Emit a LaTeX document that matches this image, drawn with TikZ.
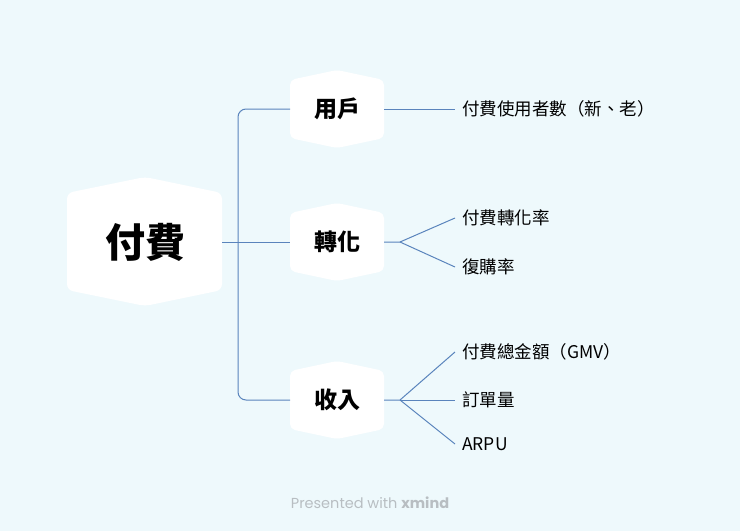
\documentclass[tikz,border=0pt]{standalone}
\usepackage{fontspec}
\setmainfont{Noto Sans CJK TC}
\newfontfamily\footfont{Poppins}
\definecolor{bg}{HTML}{EEF9FC}
\definecolor{ln}{HTML}{5A84BC}
\definecolor{ft}{HTML}{B8BEC2}
\begin{document}
\begin{tikzpicture}[x=1pt,y=-1pt,
  conn/.style={ln,line width=1pt},
  leaf/.style={anchor=west,font=\fontsize{17.5}{20}\selectfont,inner sep=0pt}]
\fill[bg] (0,0) rectangle (740,531);
\useasboundingbox (0,0) rectangle (740,531);
% root hexagon
\fill[white,rounded corners=6pt] (67,193) -- (145,177) -- (222,193) -- (222,290) -- (145,306) -- (67,290) -- cycle;
\node (root) at (145,242) {\fontsize{40}{46}\selectfont\bfseries 付費};
\coordinate (rr) at (222,242);
\foreach \n/\y/\t in {a/109/用戶,b/242/轉化,c/400/收入}{
  \fill[white,rounded corners=5pt] (290,\y-29) -- (337,\y-39) -- (384,\y-29) -- (384,\y+29) -- (337,\y+39) -- (290,\y+29) -- cycle;
  \node (\n) at (337,\y) {\fontsize{23}{26}\selectfont\bfseries \t};
  \coordinate (\n l) at (290,\y);
  \coordinate (\n r) at (384,\y);
  \coordinate (\n f) at (400,\y);
}
\draw[conn] (rr) -- (bl);
\draw[conn,rounded corners=8pt] (al) -- (238,109) -- (238,400) -- (cl);
\foreach \n/\y/\t in {l1/109/付費使用者數（新、老）,l2/218/付費轉化率,l3/267/復購率,l4/352/付費總金額（GMV）,l5/400/訂單量,l6/444/ARPU}{
  \node[leaf] (\n) at (462,\y) {\t};
  \coordinate (\n s) at (455,\y);
}
\draw[conn] (ar) -- (l1s);
\draw[conn] (br) -- (bf) -- (l2s);
\draw[conn] (bf) -- (l3s);
\draw[conn] (cr) -- (cf) -- (l4s);
\draw[conn] (cf) -- (l5s);
\draw[conn] (cf) -- (l6s);
\node[ft,font=\footfont\fontsize{14.5}{17}\selectfont] (foot) at (370,503) {Presented with \textbf{xmind}};
\end{tikzpicture}
\end{document}
